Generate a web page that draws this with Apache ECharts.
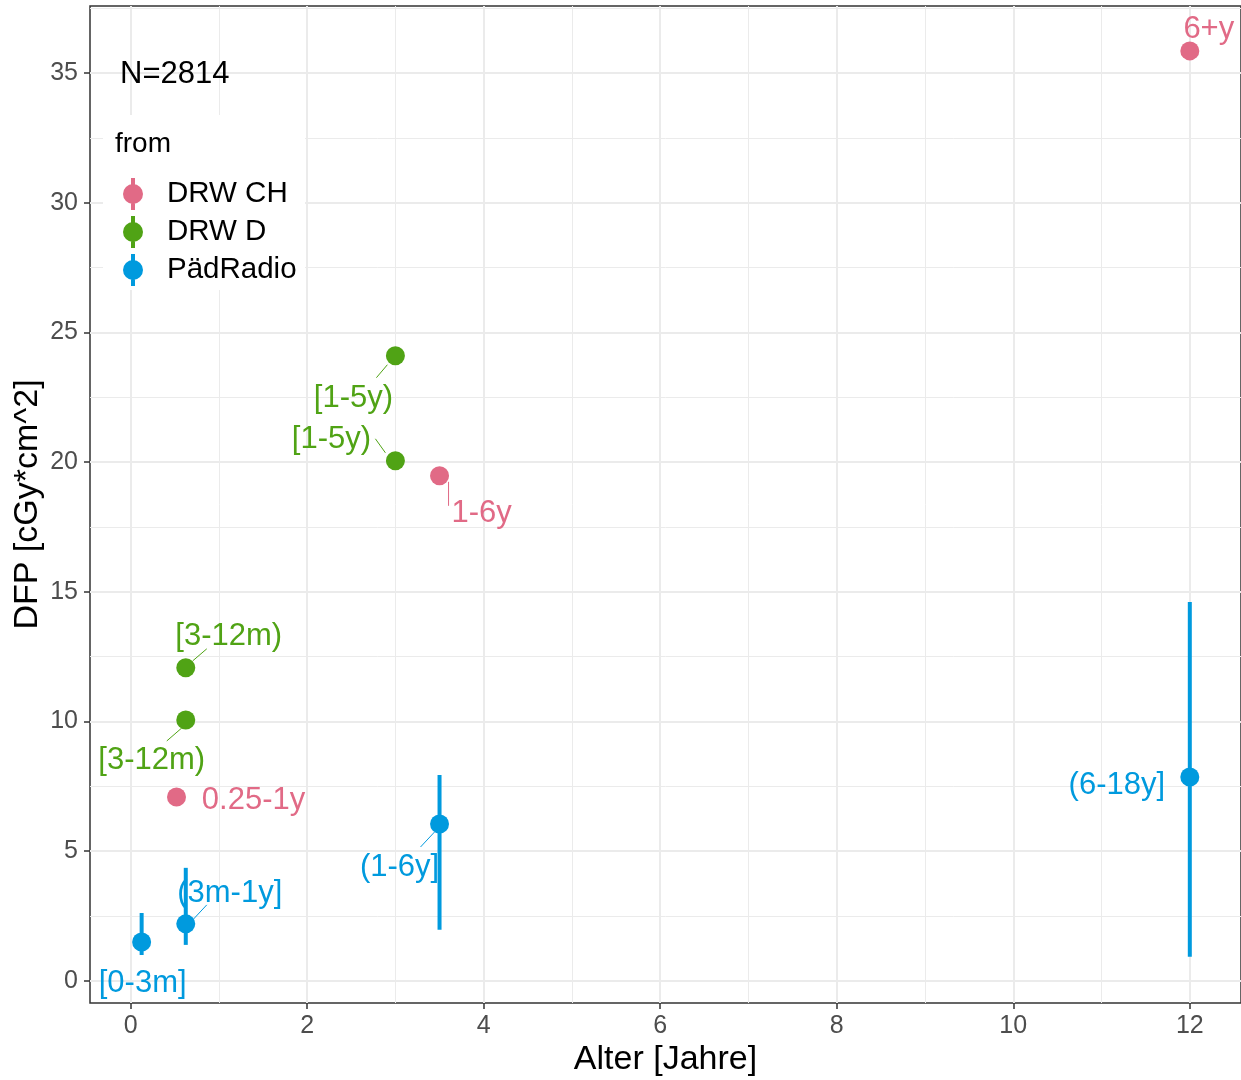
<!DOCTYPE html>
<html><head><meta charset="utf-8">
<script src="https://cdn.jsdelivr.net/npm/echarts@6/dist/echarts.min.js"></script>
<style>html,body{margin:0;padding:0;background:#fff}#c{width:1241px;height:1080px}</style>
</head><body><div id="c"></div>
<script>
// ---- data ----
const groups = ['DRW CH', 'DRW D', 'PädRadio'];
const chAge = [12, 3.5, 0.52];
const chDfp = [35.85, 19.47, 7.09];
const chLabels = ['6+y', '1-6y', '0.25-1y'];
const dAge = [3, 3, 0.625, 0.625];
const dDfp = [24.1, 20.05, 12.07, 10.06];
const dLabels = ['[1-5y)', '[1-5y)', '[3-12m)', '[3-12m)'];
const pAge = [0.125, 0.625, 3.5, 12];
const pDfp = [1.5, 2.2, 6.05, 7.86];
const pLow = [1.0, 1.39, 1.97, 0.93];
const pHigh = [2.62, 4.36, 7.94, 14.61];
const pLabels = ['[0-3m]', '(3m-1y]', '(1-6y]', '(6-18y]'];
const xTicks = [0, 2, 4, 6, 8, 10, 12];
const yTicks = [0, 5, 10, 15, 20, 25, 30, 35];
const sampleN = 'N=2814';

// ---- styles: label offsets (px) and repel segment ends (px, relative to the point) ----
const colors = ['#E16A86', '#50A315', '#009ADE'];
const chOff = [[19, -21, null], [42, 38, [9, 6, 9, 30]], [77, 3, null]];
const dOff = [[-42, 43, [-19, 22, -8, 9]], [-64, -21, [-20, -22, -10, -8]], [43, -31, [7, -7, 21, -19]], [-34, 40, [-19, 21, -4, 8]]];
const pOff = [[1, 41, null], [44, -30, [7, -4, 21, -19]], [-40, 43, [-19, 23, -5, 8]], [-73, 8, null]];
const FONT = '"Liberation Sans", Arial, sans-serif';

function scatterSeries(name, color, ages, vals, labels, offs) {
  return {
    type: 'scatter', name: name, symbolSize: 19, z: 3,
    itemStyle: { color: color, opacity: 1 },
    data: ages.map((a, i) => [a, vals[i], labels[i]]),
    label: {
      show: true, position: 'inside', formatter: p => p.value[2],
      fontSize: 31, color: color, fontFamily: FONT
    },
    labelLayout: p => ({ dx: offs[p.dataIndex][0], dy: offs[p.dataIndex][1] }),
    emphasis: { disabled: true }
  };
}
function segmentSeries(color, ages, vals, offs) {
  return {
    type: 'custom', silent: true, z: 2,
    data: ages.map((a, i) => [a, vals[i], i]),
    encode: { x: 0, y: 1 },
    renderItem: (params, api) => {
      const s = offs[api.value(2)][2];
      if (!s) return null;
      const c = api.coord([api.value(0), api.value(1)]);
      return { type: 'line', shape: { x1: c[0] + s[0], y1: c[1] + s[1], x2: c[0] + s[2], y2: c[1] + s[3] },
        style: { stroke: color, lineWidth: 1 } };
    }
  };
}
const isInt = v => Math.abs(v - Math.round(v)) < 1e-6;
const keyPath = 'path://M8,0H12V32H8Z M0,16A10,10,0,1,1,20,16A10,10,0,1,1,0,16Z';

const axisCommon = {
  type: 'value',
  axisLine: { show: false, onZero: false },
  splitLine: { show: true, lineStyle: { color: '#EBEBEB', width: 2 } },
  minorTick: { show: false, splitNumber: 2 },
  minorSplitLine: { show: true, lineStyle: { color: '#EBEBEB', width: 1 } },
  nameLocation: 'middle', nameMoveOverlap: false,
  nameTextStyle: { fontSize: 34, color: '#000' }
};

const chart = echarts.init(document.getElementById('c'));
chart.setOption({
  animation: false,
  textStyle: { fontFamily: FONT },
  grid: { left: 90, right: 0, top: 6, bottom: 77, show: true, borderColor: '#333', borderWidth: 1.5, outerBoundsMode: 'none' },
  xAxis: Object.assign({}, axisCommon, {
    min: -0.46, max: 12.58, splitNumber: 6,
    axisTick: { show: true, length: 6, lineStyle: { color: '#333', width: 1.5 }, customValues: xTicks },
    axisLabel: { customValues: xTicks, fontSize: 25, color: '#4D4D4D', margin: 11, formatter: v => isInt(v) ? String(v) : '' },
    name: 'Alter [Jahre]', nameGap: 40
  }),
  yAxis: Object.assign({}, axisCommon, {
    min: -0.85, max: 37.58, splitNumber: 7,
    axisTick: { show: true, length: 6, lineStyle: { color: '#333', width: 1.5 }, customValues: yTicks },
    axisLabel: { customValues: yTicks, fontSize: 25, color: '#4D4D4D', margin: 12, formatter: v => isInt(v) ? String(v) : '' },
    name: 'DFP [cGy*cm^2]', nameGap: 45
  }),
  legend: {
    data: groups.map(n => ({ name: n, icon: keyPath })),
    orient: 'vertical', left: 118, top: 173, itemWidth: 20, itemHeight: 32, itemGap: 6,
    selectedMode: false,
    textStyle: { fontSize: 29.5, color: '#000', padding: [0, 0, 0, 19], lineHeight: 32 }
  },
  graphic: [
    { type: 'rect', shape: { x: 103, y: 115, width: 202, height: 175 }, style: { fill: '#fff' }, z: 1, silent: true },
    { type: 'text', x: 120, y: 74, z: 5, style: { text: sampleN, font: '31px ' + FONT, fill: '#000', verticalAlign: 'middle' } },
    { type: 'text', x: 115, y: 144, z: 5, style: { text: 'from', font: '28px ' + FONT, fill: '#000', verticalAlign: 'middle' } }
  ],
  series: [
    {
      type: 'custom', name: 'PädRadio range', z: 2, silent: true,
      data: pAge.map((a, i) => [a, pLow[i], pHigh[i]]),
      encode: { x: 0, y: [1, 2] },
      renderItem: (params, api) => {
        const lo = api.coord([api.value(0), api.value(1)]);
        const hi = api.coord([api.value(0), api.value(2)]);
        return { type: 'line', shape: { x1: lo[0], y1: lo[1], x2: hi[0], y2: hi[1] }, style: { stroke: colors[2], lineWidth: 4 } };
      }
    },
    segmentSeries(colors[0], chAge, chDfp, chOff),
    segmentSeries(colors[1], dAge, dDfp, dOff),
    segmentSeries(colors[2], pAge, pDfp, pOff),
    scatterSeries(groups[0], colors[0], chAge, chDfp, chLabels, chOff),
    scatterSeries(groups[1], colors[1], dAge, dDfp, dLabels, dOff),
    scatterSeries(groups[2], colors[2], pAge, pDfp, pLabels, pOff)
  ]
});
</script>
</body></html>
